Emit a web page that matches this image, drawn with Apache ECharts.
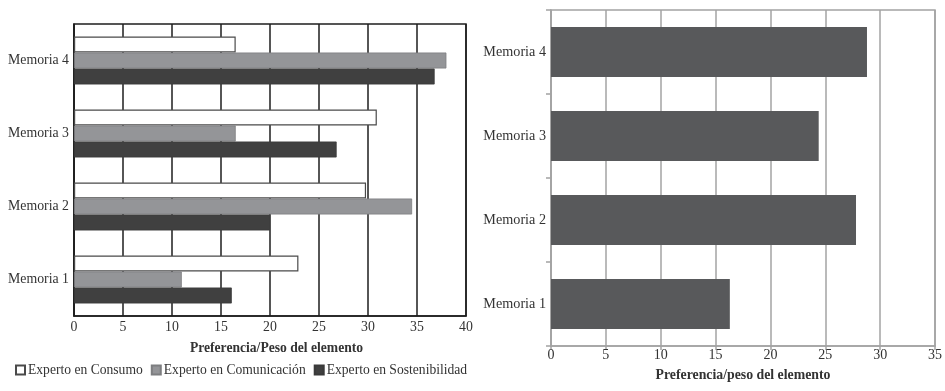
<!DOCTYPE html>
<html>
<head>
<meta charset="utf-8">
<script src="https://cdn.jsdelivr.net/npm/echarts@6/dist/echarts.min.js"></script>
<style>
  html, body { margin: 0; padding: 0; background: #fff; }
  #chart { width: 945px; height: 391px; }
</style>
</head>
<body>
<div id="chart"></div>
<script>
// Categories (bottom to top on the category axis)
const categories = ['Memoria 1', 'Memoria 2', 'Memoria 3', 'Memoria 4'];

// Left panel: preference by expert profile
const consumo = [22.9, 29.8, 30.9, 16.5];
const comunicacion = [11.0, 34.5, 16.5, 38.0];
const sostenibilidad = [16.1, 20.0, 26.8, 36.8];

// Right panel: aggregated weight per report
const pesoTotal = [16.3, 27.8, 24.4, 28.8];

const leftTicks = { min: 0, max: 40, interval: 5 };
const rightTicks = { min: 0, max: 35, interval: 5 };

const serif = '"Liberation Serif", "DejaVu Serif", serif';
const textCol = '#333';

const chart = echarts.init(document.getElementById('chart'), null, { renderer: 'canvas' });

chart.setOption({
  animation: false,
  backgroundColor: '#fff',
  textStyle: { fontFamily: serif },
  legend: {
    left: 10,
    top: 358,
    itemWidth: 9,
    itemHeight: 9,
    itemGap: 8,
    icon: 'rect',
    textStyle: { fontFamily: serif, fontSize: 13.6, color: textCol, padding: [0, 0, 0, -2] },
    data: ['Experto en Consumo', 'Experto en Comunicación', 'Experto en Sostenibilidad']
  },
  grid: [
    { left: 74, top: 24, width: 392, height: 292, show: true, borderColor: '#1e1e1e', borderWidth: 1.5, containLabel: false },
    { left: 551, top: 10, width: 387, height: 336, show: true, borderColor: '#a3a3a3', borderWidth: 1.5, containLabel: false }
  ],
  xAxis: [
    {
      gridIndex: 0, type: 'value', min: leftTicks.min, max: leftTicks.max, interval: leftTicks.interval,
      axisLine: { show: true, lineStyle: { color: '#1e1e1e', width: 1.5 } },
      axisTick: { show: false },
      splitLine: { show: true, lineStyle: { color: '#1e1e1e', width: 1.5 } },
      axisLabel: { fontFamily: serif, fontSize: 13.8, color: textCol, margin: 4 },
      name: 'Preferencia/Peso del elemento', nameLocation: 'middle', nameGap: 25,
      nameTextStyle: { fontFamily: serif, fontSize: 13.6, fontWeight: 'bold', color: textCol, padding: [0, 0, 0, 13] }
    },
    {
      gridIndex: 1, type: 'value', min: rightTicks.min, max: rightTicks.max, interval: rightTicks.interval,
      axisLine: { show: true, lineStyle: { color: '#a3a3a3', width: 1.5 } },
      axisTick: { show: true, length: 4, lineStyle: { color: '#a3a3a3', width: 1.5 } },
      splitLine: { show: true, lineStyle: { color: '#a3a3a3', width: 1.5 } },
      axisLabel: { fontFamily: serif, fontSize: 14, color: textCol, margin: 2 },
      name: 'Preferencia/peso del elemento', nameLocation: 'middle', nameGap: 22,
      nameTextStyle: { fontFamily: serif, fontSize: 13.8, fontWeight: 'bold', color: textCol }
    }
  ],
  yAxis: [
    {
      gridIndex: 0, type: 'category', data: categories,
      axisLine: { show: true, lineStyle: { color: '#1e1e1e', width: 1.5 } },
      axisTick: { show: false },
      axisLabel: { fontFamily: serif, fontSize: 13.8, color: textCol, margin: 5 }
    },
    {
      gridIndex: 1, type: 'category', data: categories,
      axisLine: { show: true, lineStyle: { color: '#a3a3a3', width: 1.5 } },
      axisTick: { show: true, length: 5, lineStyle: { color: '#a3a3a3', width: 1.5 } },
      axisLabel: { fontFamily: serif, fontSize: 14.2, color: textCol, margin: 5 }
    }
  ],
  series: [
    {
      name: 'Experto en Consumo', type: 'bar', xAxisIndex: 0, yAxisIndex: 0,
      data: consumo, barWidth: 16, barGap: '0%',
      itemStyle: { color: '#ffffff', borderColor: '#4a4a4a', borderWidth: 1.2 }
    },
    {
      name: 'Experto en Comunicación', type: 'bar', xAxisIndex: 0, yAxisIndex: 0,
      data: comunicacion, barWidth: 16, barGap: '0%',
      itemStyle: { color: '#949598', borderColor: '#7d7e80', borderWidth: 0.8 }
    },
    {
      name: 'Experto en Sostenibilidad', type: 'bar', xAxisIndex: 0, yAxisIndex: 0,
      data: sostenibilidad, barWidth: 16, barGap: '0%',
      itemStyle: { color: '#404040', borderColor: '#3a3a3a', borderWidth: 0.8 }
    },
    {
      name: 'Peso', type: 'bar', xAxisIndex: 1, yAxisIndex: 1,
      data: pesoTotal, barWidth: 50,
      itemStyle: { color: '#58595b' }
    }
  ]
});
</script>
</body>
</html>
